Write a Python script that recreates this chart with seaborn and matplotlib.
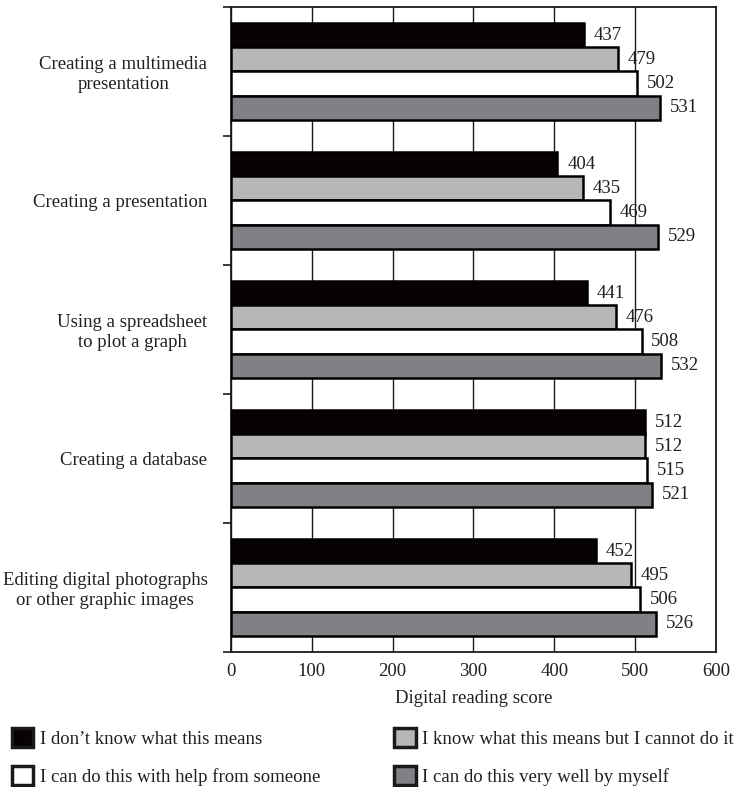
import matplotlib
matplotlib.use("Agg")
import matplotlib.pyplot as plt
from matplotlib.patches import Patch
import seaborn as sns
import pandas as pd

# Activities (y categories) and the four self-rated ability groups
activities = [
    "Creating a multimedia\npresentation",
    "Creating a presentation",
    "Using a spreadsheet\nto plot a graph",
    "Creating a database",
    "Editing digital photographs\nor other graphic images",
]
groups = [
    "I don\u2019t know what this means",
    "I know what this means but I cannot do it",
    "I can do this with help from someone",
    "I can do this very well by myself",
]
dont_know = [437, 404, 441, 512, 452]
cannot_do = [479, 435, 476, 512, 495]
with_help = [502, 469, 508, 515, 506]
very_well = [531, 529, 532, 521, 526]
x_ticks = [0, 100, 200, 300, 400, 500, 600]

colors = ["#080202", "#b6b7b9", "#ffffff", "#808185"]
ink = "#231f20"
FS = 13.5

rows = []
for g, vals in zip(groups, [dont_know, cannot_do, with_help, very_well]):
    for a, v in zip(activities, vals):
        rows.append({"activity": a, "group": g, "score": v})
df = pd.DataFrame(rows)

sns.set_theme(style="white")
plt.rcParams["font.family"] = ["Liberation Serif", "DejaVu Serif"]
plt.rcParams["font.size"] = FS
plt.rcParams["text.color"] = ink

fig = plt.figure(figsize=(7.38, 7.87), dpi=100)
ax = fig.add_axes([0.313, 0.1716, 0.657, 0.8195])

sns.barplot(data=df, y="activity", x="score", hue="group", order=activities,
            hue_order=groups, palette=colors, orient="h", width=0.75,
            edgecolor="black", linewidth=1.8, saturation=1, legend=False,
            errorbar=None, ax=ax, zorder=3)

for cont in ax.containers:
    ax.bar_label(cont, labels=[f"{v:.0f}" for v in cont.datavalues],
                 padding=7, fontsize=FS, color=ink)

ax.set_xlim(0, 600)
ax.set_ylim(4.5, -0.5)
ax.set_xticks(x_ticks)
ax.set_xticklabels([str(t) for t in x_ticks], fontsize=FS, color=ink)
ax.xaxis.grid(True, color="#1a1a1a", linewidth=1.0, zorder=0)
ax.set_axisbelow(True)
ax.tick_params(axis="x", length=0, pad=8)
ax.set_xlabel("Digital reading score", fontsize=FS, labelpad=7, color=ink)
ax.set_ylabel("")

# category boundaries as major ticks, names as minor ticks
ax.set_yticks([i - 0.5 for i in range(len(activities) + 1)])
ax.set_yticklabels([])
ax.tick_params(axis="y", which="major", length=6, width=1.2, color="#1a1a1a",
               direction="out", left=True)
ax.set_yticks(range(len(activities)), minor=True)
ax.set_yticklabels(activities, minor=True, fontsize=FS, color=ink)
ax.tick_params(axis="y", which="minor", length=0, pad=17)
for lbl in ax.get_yticklabels(minor=True):
    lbl.set_multialignment("center")

for s in ax.spines.values():
    s.set_visible(True)
    s.set_color("#1a1a1a")
    s.set_linewidth(1.3)

handles = [Patch(facecolor=c, edgecolor="#1a1a1a", linewidth=2.5) for c in colors]
legend_kw = dict(loc="upper left", frameon=False, fontsize=FS,
                 handlelength=1.15, handleheight=1.15, handletextpad=0.35,
                 labelspacing=1.0, borderaxespad=0, borderpad=0)
leg1 = fig.legend([handles[0], handles[2]], [groups[0], groups[2]],
                  bbox_to_anchor=(0.016, 0.075), **legend_kw)
leg2 = fig.legend([handles[1], handles[3]], [groups[1], groups[3]],
                  bbox_to_anchor=(0.534, 0.075), **legend_kw)

fig.savefig("out.png", dpi=100)
